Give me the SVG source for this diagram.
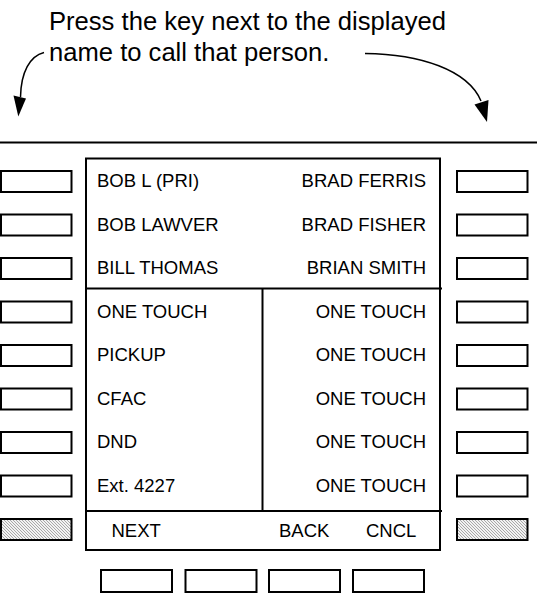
<svg xmlns="http://www.w3.org/2000/svg" width="537" height="611" viewBox="0 0 537 611">
<style>
text{font-family:"Liberation Sans",Arial,sans-serif;fill:#000}
.t{font-size:25.6px}
.l{font-size:18.5px}
.r{font-size:18.5px;text-anchor:end}
.key{fill:#fff;stroke:#000;stroke-width:2}
.hkey{fill:url(#hatch);stroke:#000;stroke-width:2}
.ln{fill:none;stroke:#000;stroke-width:2}
.arr{fill:none;stroke:#000;stroke-width:1.5}
</style>
<defs>
<pattern id="hatch" width="3" height="3" patternUnits="userSpaceOnUse">
<rect width="3" height="3" fill="#f2f2f2"/>
<path d="M-1,-1 L4,4 M-1,2 L1,4 M2,-1 L4,1" stroke="#a8a8a8" stroke-width="1"/>
</pattern>
</defs>
<rect width="537" height="611" fill="#fff"/>

<g id="caption">
<text class="t" x="49" y="29.5">Press the key next to the displayed</text>
<text class="t" x="49" y="60.5">name to call that person.</text>
</g>

<g id="connectors">
<path class="arr" d="M44,52.5 C30,56 21,72 20.5,97"/>
<polygon points="13.5,95.5 26,98.5 18.3,116.5" fill="#000"/>
<path class="arr" d="M365,53.5 C420,54 468,70 481,101"/>
<polygon points="474.5,104.5 488.5,100 487,122" fill="#000"/>
</g>

<line id="divider" class="ln" x1="0" y1="142.5" x2="537" y2="142.5"/>

<g id="left-keys">
<rect class="key" x="1" y="171" width="70.5" height="21"/>
<rect class="key" x="1" y="214.5" width="70.5" height="21"/>
<rect class="key" x="1" y="258" width="70.5" height="21"/>
<rect class="key" x="1" y="301.5" width="70.5" height="21"/>
<rect class="key" x="1" y="345" width="70.5" height="21"/>
<rect class="key" x="1" y="388.5" width="70.5" height="21"/>
<rect class="key" x="1" y="432" width="70.5" height="21"/>
<rect class="key" x="1" y="475.5" width="70.5" height="21"/>
<rect class="hkey" x="1" y="519" width="70.5" height="21"/>
</g>

<g id="right-keys">
<rect class="key" x="457" y="171" width="70.5" height="21"/>
<rect class="key" x="457" y="214.5" width="70.5" height="21"/>
<rect class="key" x="457" y="258" width="70.5" height="21"/>
<rect class="key" x="457" y="301.5" width="70.5" height="21"/>
<rect class="key" x="457" y="345" width="70.5" height="21"/>
<rect class="key" x="457" y="388.5" width="70.5" height="21"/>
<rect class="key" x="457" y="432" width="70.5" height="21"/>
<rect class="key" x="457" y="475.5" width="70.5" height="21"/>
<rect class="hkey" x="457" y="519" width="70.5" height="21"/>
</g>

<g id="bottom-keys">
<rect class="key" x="101" y="570" width="71" height="22"/>
<rect class="key" x="185.5" y="570" width="71" height="22"/>
<rect class="key" x="269" y="570" width="71" height="22"/>
<rect class="key" x="353" y="570" width="71" height="22"/>
</g>

<g id="screen">
<rect class="ln" x="86" y="158.5" width="354" height="391.5" fill="#fff"/>
<line class="ln" x1="86" y1="288.5" x2="442" y2="288.5"/>
<line class="ln" x1="86" y1="511" x2="442" y2="511"/>
<line class="ln" x1="262.5" y1="288.5" x2="262.5" y2="511"/>
<text class="l" x="97" y="187">BOB L (PRI)</text>
<text class="l" x="97" y="230.5">BOB LAWVER</text>
<text class="l" x="97" y="274">BILL THOMAS</text>
<text class="l" x="97" y="317.5">ONE TOUCH</text>
<text class="l" x="97" y="361">PICKUP</text>
<text class="l" x="97" y="404.5">CFAC</text>
<text class="l" x="97" y="448">DND</text>
<text class="l" x="97" y="491.5">Ext. 4227</text>
<text class="r" x="426" y="187">BRAD FERRIS</text>
<text class="r" x="426" y="230.5">BRAD FISHER</text>
<text class="r" x="426" y="274">BRIAN SMITH</text>
<text class="r" x="426" y="317.5">ONE TOUCH</text>
<text class="r" x="426" y="361">ONE TOUCH</text>
<text class="r" x="426" y="404.5">ONE TOUCH</text>
<text class="r" x="426" y="448">ONE TOUCH</text>
<text class="r" x="426" y="491.5">ONE TOUCH</text>
<text class="l" x="111.5" y="536.5">NEXT</text>
<text class="l" x="279" y="536.5">BACK</text>
<text class="l" x="366" y="536.5">CNCL</text>
</g>
</svg>
